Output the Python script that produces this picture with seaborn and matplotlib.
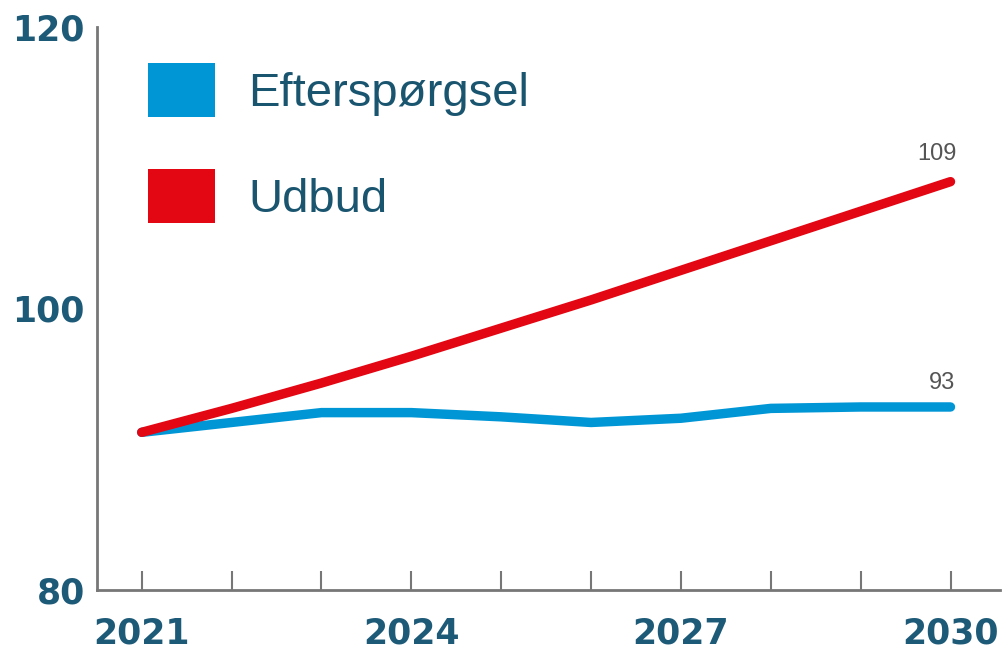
import pandas as pd
import seaborn as sns
import matplotlib.pyplot as plt
from matplotlib.patches import Patch

years = [2021, 2022, 2023, 2024, 2025, 2026, 2027, 2028, 2029, 2030]
efterspoergsel = [91.2, 91.9, 92.6, 92.6, 92.3, 91.9, 92.2, 92.9, 93.0, 93.0]
udbud = [91.2, 92.9, 94.7, 96.6, 98.6, 100.6, 102.7, 104.8, 106.9, 109.0]
series_names = ["Efterspørgsel", "Udbud"]
colors = ["#0096d6", "#e30613"]
tick_years = [2021, 2024, 2027, 2030]
y_ticks = [80, 100, 120]

df = pd.DataFrame({
    "År": years * 2,
    "Værdi": efterspoergsel + udbud,
    "Serie": [series_names[0]] * len(years) + [series_names[1]] * len(years),
})

sns.set_style("white")
plt.rcParams["font.family"] = ["Liberation Sans", "DejaVu Sans"]

fig = plt.figure(figsize=(10.08, 6.52), dpi=100)
ax = fig.add_axes([0.096, 0.095, 0.896, 0.864])

sns.lineplot(data=df, x="År", y="Værdi", hue="Serie", hue_order=series_names,
             palette=colors, linewidth=6.8, ax=ax, legend=False,
             solid_capstyle="round")

ax.set_xlim(2020.5, 2030.55)
ax.set_ylim(80, 120)
ax.set_xticks(years)
ax.set_xticklabels([str(y) if y in tick_years else "" for y in years])
ax.set_yticks(y_ticks)
ax.set_yticks([120], minor=True)
ax.set_xlabel("")
ax.set_ylabel("")

label_color = "#1d5a78"
ax.tick_params(axis="x", bottom=True, direction="in", length=14, width=1.5,
               color="#777777", labelsize=25, labelcolor=label_color, pad=19)
ax.tick_params(axis="y", which="major", left=False, length=0, labelsize=25,
               labelcolor=label_color, pad=8.6)
ax.tick_params(axis="y", which="minor", left=True, direction="in", length=16,
               width=2, color="#777777")
for lab in ax.get_xticklabels() + ax.get_yticklabels():
    lab.set_fontweight("bold")
    lab.set_family(["DejaVu Sans"])

for side in ["top", "right"]:
    ax.spines[side].set_visible(False)
for side in ["left", "bottom"]:
    ax.spines[side].set_color("#777777")
    ax.spines[side].set_linewidth(2)

# end labels
ax.annotate(f"{udbud[-1]:.0f}", (years[-1], udbud[-1]), xytext=(-10, 12),
            textcoords="offset points", ha="center", va="bottom",
            fontsize=17, color="#555555")
ax.annotate(f"{efterspoergsel[-1]:.0f}", (years[-1], efterspoergsel[-1]), xytext=(-6, 9),
            textcoords="offset points", ha="center", va="bottom",
            fontsize=17, color="#555555")

handles = [Patch(facecolor=c, edgecolor="none") for c in colors]
ax.legend(handles, series_names, loc="upper left", bbox_to_anchor=(0.057, 0.936),
          frameon=False, fontsize=34, handlelength=1.42, handleheight=1.40,
          labelspacing=1.09, handletextpad=0.7, borderpad=0, borderaxespad=0,
          labelcolor="#1a5570")

fig.savefig("out.png", dpi=100)
